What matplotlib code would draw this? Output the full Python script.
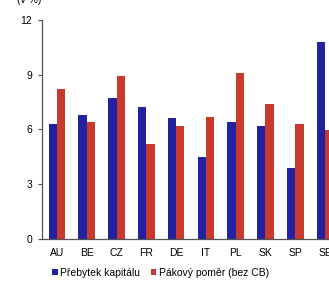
import matplotlib.pyplot as plt
import numpy as np

plt.rcParams['font.family'] = ['Liberation Sans', 'DejaVu Sans']

countries = ['AU', 'BE', 'CZ', 'FR', 'DE', 'IT', 'PL', 'SK', 'SP', 'SE']
surplus = [6.3, 6.8, 7.7, 7.2, 6.6, 4.5, 6.4, 6.2, 3.9, 10.8]
leverage = [8.2, 6.4, 8.9, 5.2, 6.2, 6.65, 9.1, 7.4, 6.3, 5.95]
yticks = [0, 3, 6, 9, 12]

blue = '#2222a0'
red = '#c8392e'

fig = plt.figure(figsize=(3.29, 2.82), dpi=100)
ax = fig.add_axes([0.128, 0.154, 0.905, 0.775])

x = np.arange(len(countries))
w = 0.28
ax.bar(x - w / 2, surplus, w, color=blue, label='Přebytek kapitálu')
ax.bar(x + w / 2, leverage, w, color=red, label='Pákový poměr (bez CB)')

ax.set_xlim(-0.5, 9.5)
ax.set_ylim(0, 12)
ax.set_yticks(yticks)
ax.set_xticks(x)
ax.set_xticklabels(countries)
ax.tick_params(axis='x', length=0, pad=7, labelsize=7.5)
ax.tick_params(axis='y', length=3, width=0.8, color='#555555', pad=4, labelsize=7.5)

for s in ['top', 'right']:
    ax.spines[s].set_visible(False)
for s in ['left', 'bottom']:
    ax.spines[s].set_color('#555555')
    ax.spines[s].set_linewidth(0.9)

fig.text(0.09, 1.0, '(v %)', fontsize=7.5, ha='center', va='center')

fig.legend(loc='center left', bbox_to_anchor=(0.145, 0.032), ncol=2, frameon=False,
           fontsize=7.5, handlelength=0.55, handleheight=0.55, handletextpad=0.25,
           columnspacing=1.0, borderaxespad=0)

fig.savefig('out.png', dpi=100)
